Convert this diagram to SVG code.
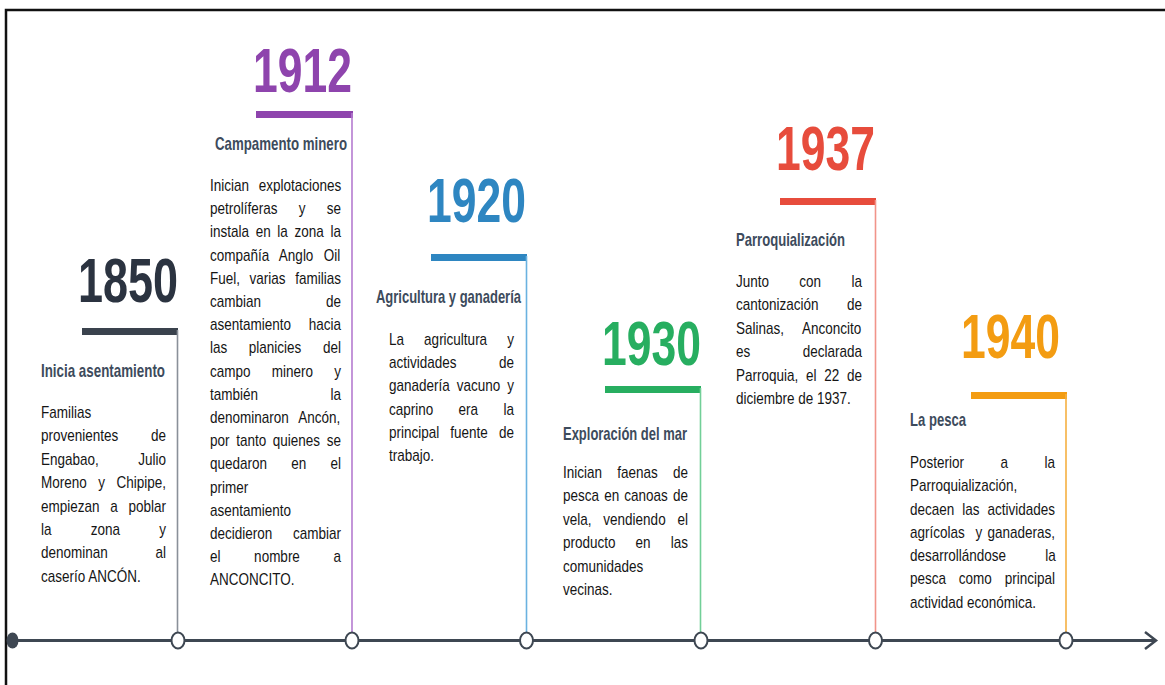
<svg xmlns="http://www.w3.org/2000/svg" width="1165" height="685" viewBox="0 0 1165 685">
<defs>
<style>
.yr{font-family:"Liberation Sans",Arial,sans-serif;font-weight:700;font-size:63px}
.hd{font-family:"Liberation Sans",Arial,sans-serif;font-weight:700;font-size:19px;fill:#3d4b5c}
.bd{font-family:"Liberation Sans",Arial,sans-serif;font-size:16px;fill:#151515;white-space:pre}
.dot{fill:#fff;stroke:#3e4752;stroke-width:2}
.vl{stroke-width:1.6;fill:none}
</style>
</defs>
<rect width="1165" height="685" fill="#fff"/>
<path d="M6,685 V10 H1165" fill="none" stroke="#111" stroke-width="2.5"/>

<g id="node-1850">
<text class="yr" x="78" y="302" fill="#2b3340" textLength="100" lengthAdjust="spacingAndGlyphs">1850</text>
<rect x="82" y="328" width="96" height="7" fill="#3a424d"/>
<line class="vl" x1="177.5" y1="330" x2="177.5" y2="632" stroke="#8a9099"/>
<text class="hd" x="41" y="377" textLength="124" lengthAdjust="spacingAndGlyphs">Inicia asentamiento</text>
<g transform="translate(41,0) scale(0.84375,1)">
<text class="bd" x="0" y="418">Familias</text>
<text class="bd" x="0" y="441.4" word-spacing="34.31">provenientes de</text>
<text class="bd" x="0" y="464.8" word-spacing="42.31">Engabao, Julio</text>
<text class="bd" x="0" y="488.2" word-spacing="9.16">Moreno y Chipipe,</text>
<text class="bd" x="0" y="511.6" word-spacing="8.27">empiezan a poblar</text>
<text class="bd" x="0" y="535" word-spacing="42.06">la zona y</text>
<text class="bd" x="0" y="558.4" word-spacing="52.1">denominan al</text>
<text class="bd" x="0" y="581.8">caserío ANCÓN.</text>
</g>
</g>

<g id="node-1912">
<text class="yr" x="253" y="92" fill="#8e44ad" textLength="99" lengthAdjust="spacingAndGlyphs">1912</text>
<rect x="256" y="111" width="97" height="7" fill="#8e44ad"/>
<line class="vl" x1="352" y1="113" x2="352" y2="632" stroke="#b57bd0"/>
<text class="hd" x="215" y="150" textLength="132" lengthAdjust="spacingAndGlyphs">Campamento minero</text>
<g transform="translate(210,0) scale(0.84375,1)">
<text class="bd" x="0" y="191" word-spacing="7">Inician explotaciones</text>
<text class="bd" x="0" y="214.2" word-spacing="20.72">petrolíferas y se</text>
<text class="bd" x="0" y="237.4" word-spacing="3.47">instala en la zona la</text>
<text class="bd" x="0" y="260.6" word-spacing="7.82">compañía Anglo Oil</text>
<text class="bd" x="0" y="283.8" word-spacing="6.96">Fuel, varias familias</text>
<text class="bd" x="0" y="307" word-spacing="72.53">cambian de</text>
<text class="bd" x="0" y="330.2" word-spacing="16.53">asentamiento hacia</text>
<text class="bd" x="0" y="353.4" word-spacing="21.17">las planicies del</text>
<text class="bd" x="0" y="376.6" word-spacing="20.73">campo minero y</text>
<text class="bd" x="0" y="399.8" word-spacing="81.46">también la</text>
<text class="bd" x="0" y="423" word-spacing="7.63">denominaron Ancón,</text>
<text class="bd" x="0" y="446.2" word-spacing="3.44">por tanto quienes se</text>
<text class="bd" x="0" y="469.4" word-spacing="24.26">quedaron en el</text>
<text class="bd" x="0" y="492.6">primer</text>
<text class="bd" x="0" y="515.8">asentamiento</text>
<text class="bd" x="0" y="539" word-spacing="20.11">decidieron cambiar</text>
<text class="bd" x="0" y="562.2" word-spacing="35.4">el nombre a</text>
<text class="bd" x="0" y="585.4">ANCONCITO.</text>
</g>
</g>

<g id="node-1920">
<text class="yr" x="427" y="222" fill="#2e86c1" textLength="99" lengthAdjust="spacingAndGlyphs">1920</text>
<rect x="431" y="254" width="96" height="7" fill="#2e86c1"/>
<line class="vl" x1="526.5" y1="256" x2="526.5" y2="632" stroke="#6ab2e0"/>
<text class="hd" x="376" y="303" textLength="145" lengthAdjust="spacingAndGlyphs">Agricultura y ganadería</text>
<g transform="translate(389,0) scale(0.84375,1)">
<text class="bd" x="0" y="345" word-spacing="19.39">La agricultura y</text>
<text class="bd" x="0" y="368.2" word-spacing="45.88">actividades de</text>
<text class="bd" x="0" y="391.4" word-spacing="3.82">ganadería vacuno y</text>
<text class="bd" x="0" y="414.6" word-spacing="25.61">caprino era la</text>
<text class="bd" x="0" y="437.8" word-spacing="8.71">principal fuente de</text>
<text class="bd" x="0" y="461">trabajo.</text>
</g>
</g>

<g id="node-1930">
<text class="yr" x="602" y="365" fill="#27ae60" textLength="99" lengthAdjust="spacingAndGlyphs">1930</text>
<rect x="605" y="386" width="96" height="7" fill="#27ae60"/>
<line class="vl" x1="700.5" y1="388" x2="700.5" y2="632" stroke="#72cf98"/>
<text class="hd" x="563" y="440" textLength="124" lengthAdjust="spacingAndGlyphs">Exploración del mar</text>
<g transform="translate(563,0) scale(0.84375,1)">
<text class="bd" x="0" y="478" word-spacing="13.59">Inician faenas de</text>
<text class="bd" x="0" y="501.4" word-spacing="1.65">pesca en canoas de</text>
<text class="bd" x="0" y="524.8" word-spacing="9.6">vela, vendiendo el</text>
<text class="bd" x="0" y="548.2" word-spacing="19.38">producto en las</text>
<text class="bd" x="0" y="571.6">comunidades</text>
<text class="bd" x="0" y="595">vecinas.</text>
</g>
</g>

<g id="node-1937">
<text class="yr" x="776" y="170" fill="#e74c3c" textLength="99" lengthAdjust="spacingAndGlyphs">1937</text>
<rect x="780" y="198" width="96" height="7" fill="#e74c3c"/>
<line class="vl" x1="875.5" y1="200" x2="875.5" y2="632" stroke="#f1948a"/>
<text class="hd" x="736" y="246" textLength="109" lengthAdjust="spacingAndGlyphs">Parroquialización</text>
<g transform="translate(736,0) scale(0.84375,1)">
<text class="bd" x="0" y="287" word-spacing="31.54">Junto con la</text>
<text class="bd" x="0" y="310.4" word-spacing="29.27">cantonización de</text>
<text class="bd" x="0" y="333.8" word-spacing="17.72">Salinas, Anconcito</text>
<text class="bd" x="0" y="357.2" word-spacing="57.74">es declarada</text>
<text class="bd" x="0" y="380.6" word-spacing="4.72">Parroquia, el 22 de</text>
<text class="bd" x="0" y="404">diciembre de 1937.</text>
</g>
</g>

<g id="node-1940">
<text class="yr" x="961" y="358" fill="#f39c12" textLength="99" lengthAdjust="spacingAndGlyphs">1940</text>
<rect x="971" y="392" width="96" height="7" fill="#f39c12"/>
<line class="vl" x1="1066" y1="394" x2="1066" y2="632" stroke="#f5b041"/>
<text class="hd" x="910" y="426" textLength="56" lengthAdjust="spacingAndGlyphs">La pesca</text>
<g transform="translate(910,0) scale(0.84375,1)">
<text class="bd" x="0" y="468" word-spacing="38.8">Posterior a la</text>
<text class="bd" x="0" y="491.3">Parroquialización,</text>
<text class="bd" x="0" y="514.6" word-spacing="5">decaen las actividades</text>
<text class="bd" x="0" y="537.9" word-spacing="1.85">agrícolas  y ganaderas,</text>
<text class="bd" x="0" y="561.2" word-spacing="42.16">desarrollándose la</text>
<text class="bd" x="0" y="584.5" word-spacing="10.8">pesca como principal</text>
<text class="bd" x="0" y="607.8">actividad económica.</text>
</g>
</g>

<g id="connectors">
<line x1="12" y1="640.5" x2="1155" y2="640.5" stroke="#3e4752" stroke-width="3"/>
<path d="M1145,632 L1156,640.5 L1145,649" fill="none" stroke="#3e4752" stroke-width="2.5" stroke-linejoin="miter"/>
<ellipse cx="12.5" cy="640.5" rx="6" ry="8" fill="#3e4752"/>
<ellipse class="dot" cx="178" cy="640.5" rx="6.5" ry="8"/>
<ellipse class="dot" cx="352" cy="640.5" rx="6.5" ry="8"/>
<ellipse class="dot" cx="526.5" cy="640.5" rx="6.5" ry="8"/>
<ellipse class="dot" cx="701" cy="640.5" rx="6.5" ry="8"/>
<ellipse class="dot" cx="875.5" cy="640.5" rx="6.5" ry="8"/>
<ellipse class="dot" cx="1066" cy="640.5" rx="6.5" ry="8"/>
</g>
</svg>
